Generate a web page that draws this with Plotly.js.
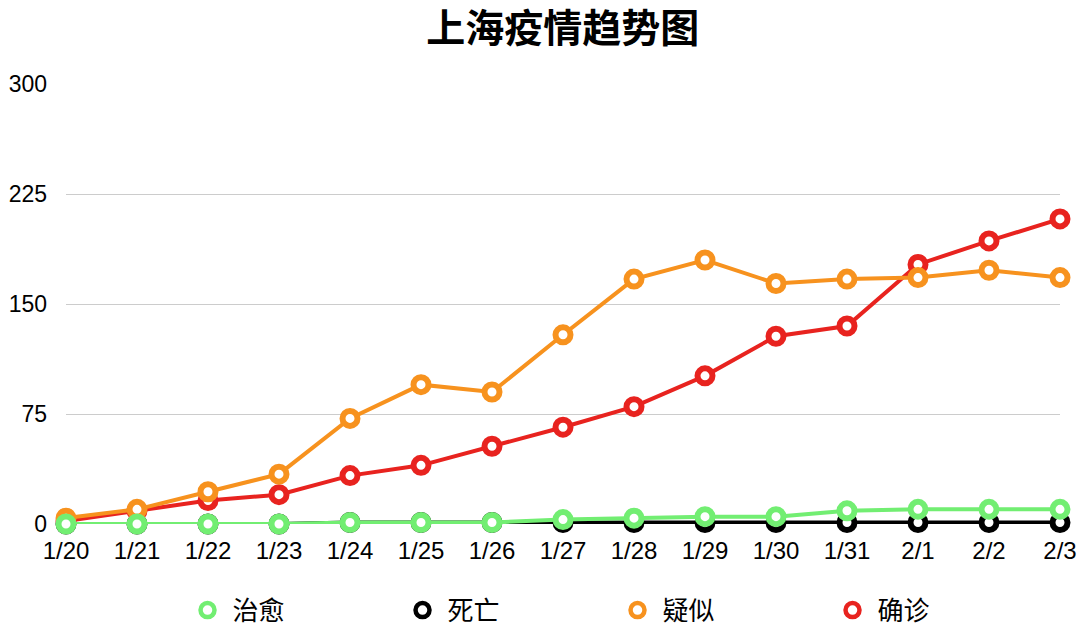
<!DOCTYPE html>
<html><head><meta charset="utf-8">
<script src="https://cdn.plot.ly/plotly-3.0.1.min.js"></script>
<style>html,body{margin:0;padding:0;background:#fff}#chart{width:1080px;height:633px}</style>
</head><body><div id="chart"></div>
<script>
const dates = ['1/20','1/21','1/22','1/23','1/24','1/25','1/26','1/27','1/28','1/29','1/30','1/31','2/1','2/2','2/3'];
const cured = [0,0,0,0,1,1,1,3,4,5,5,9,10,10,10];
const deaths = [0,0,0,0,1,1,1,1,1,1,1,1,1,1,1];
const suspected = [4,10,22,34,72,95,90,129,167,180,164,167,168,173,168];
const confirmed = [2,9,16,20,33,40,53,66,80,101,128,135,177,193,208];
const yTicks = [0,75,150,225,300];

const series = [
  {name:'死亡', y:deaths, color:'#000000', rank:2},
  {name:'确诊', y:confirmed, color:'#E8231F', rank:4},
  {name:'疑似', y:suspected, color:'#F7921E', rank:3},
  {name:'治愈', y:cured, color:'#72EE72', rank:1}
];
const data = [];
series.forEach(s => {
  data.push({x: dates, y: s.y, name: s.name, type:'scatter', mode:'lines+markers',
    line:{color:s.color, width:4}, cliponaxis:false, showlegend:false,
    marker:{symbol:'circle', size:15, color:'#fff', line:{color:s.color, width:6}}});
});
series.forEach(s => {
  data.push({x: [dates[0]], y: [null], name: s.name, type:'scatter', mode:'markers',
    legendrank: s.rank, showlegend:true, hoverinfo:'skip',
    marker:{symbol:'circle', size:14, color:'#fff', line:{color:s.color, width:4.5}}});
});
const font = '"Liberation Sans", "Noto Sans CJK SC", sans-serif';
const layout = {
  width:1080, height:633,
  margin:{l:66, r:20, t:84, b:109},
  paper_bgcolor:'#fff', plot_bgcolor:'#fff',
  title:{text:'<b>上海疫情趋势图</b>', xref:'container', x:0.521, xanchor:'center', yref:'container', y:0.955, yanchor:'middle',
    font:{family:'"Noto Sans CJK SC", sans-serif', size:39, color:'#000'}},
  xaxis:{type:'category', range:[0,14], showgrid:false, zeroline:false, showline:false, automargin:false,
    ticks:'', ticklabelstandoff:10, tickfont:{family:font, size:24, color:'#000'}, fixedrange:true},
  yaxis:{range:[0,300], tickvals:yTicks, ticktext:yTicks.map(String), showgrid:true, automargin:false,
    gridcolor:'#cccccc', gridwidth:1, zeroline:false, showline:false, ticks:'',
    ticklabelstandoff:18, tickfont:{family:font, size:23, color:'#000'}},
  showlegend:true,
  legend:{orientation:'h', xref:'container', x:0.169, xanchor:'left', yref:'container', y:0.036, yanchor:'middle',
    entrywidth:160, entrywidthmode:'pixels', itemwidth:40,
    font:{family:'"Noto Sans CJK SC", sans-serif', size:26, color:'#000'}}
};
Plotly.newPlot('chart', data, layout, {displayModeBar:false, staticPlot:true});
</script></body></html>
